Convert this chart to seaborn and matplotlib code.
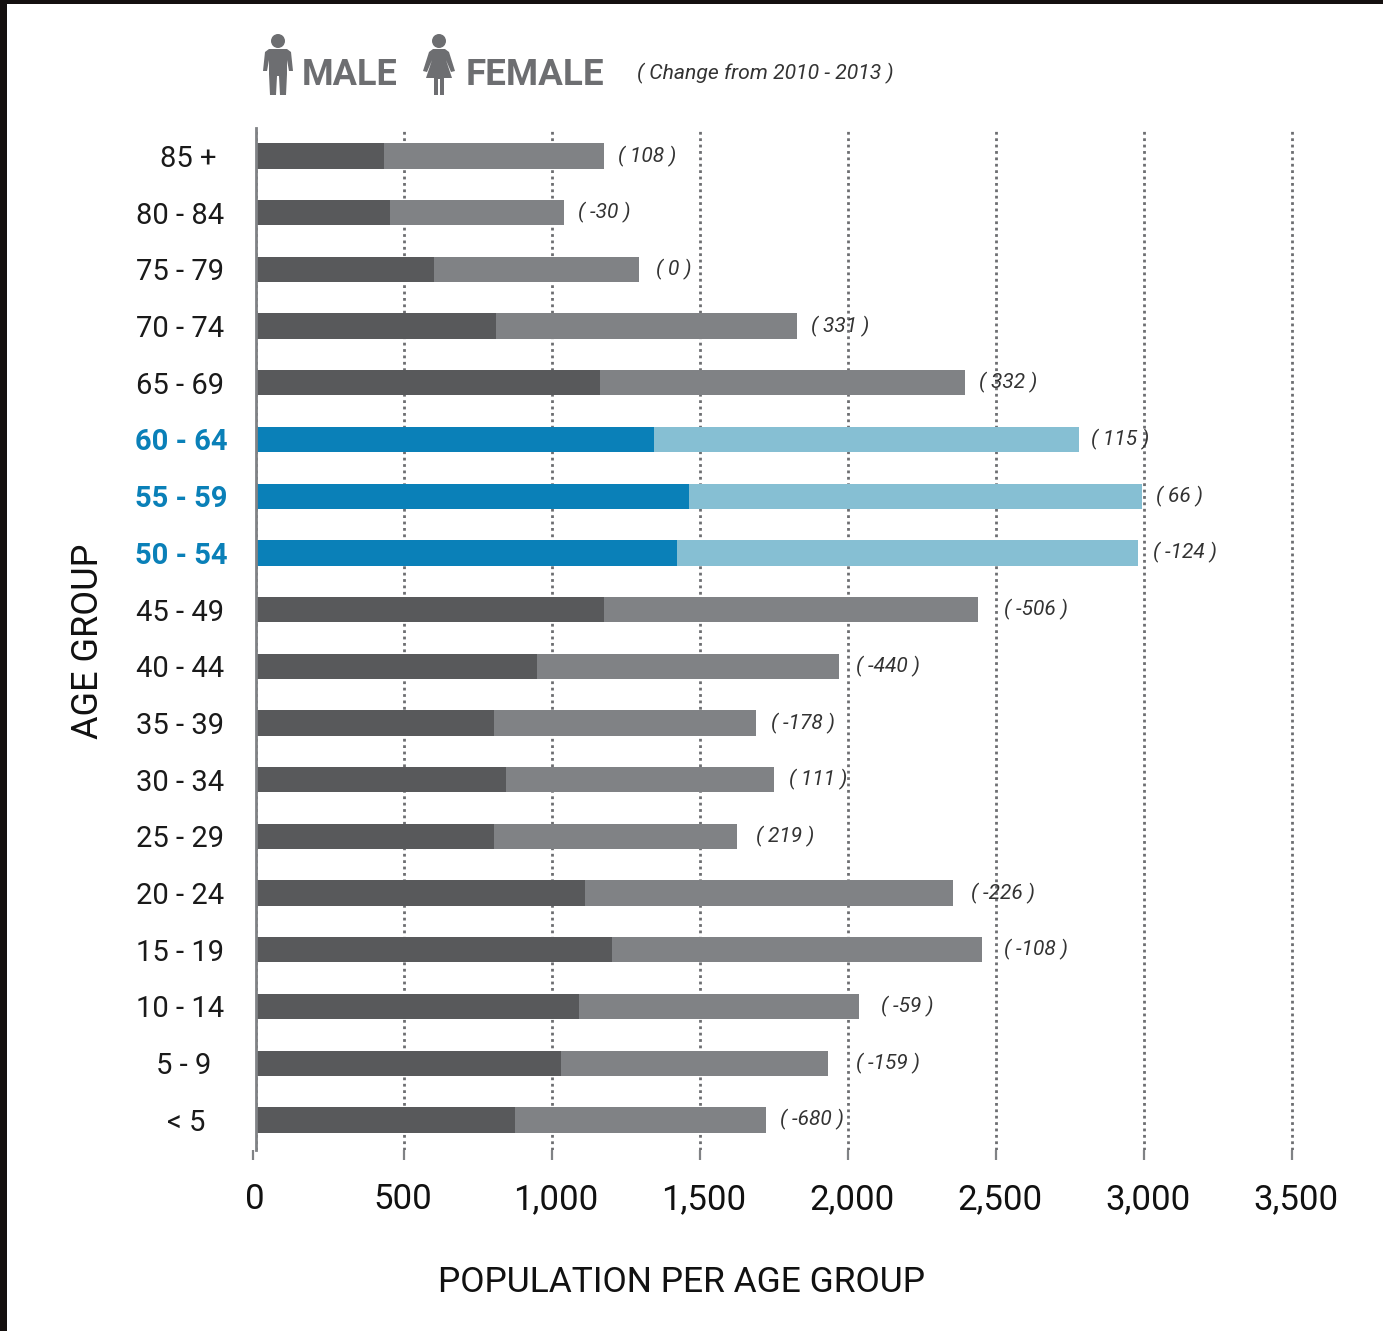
import matplotlib
matplotlib.use("Agg")
import matplotlib.pyplot as plt
from matplotlib.patches import Polygon, Circle, Rectangle
from matplotlib.transforms import ScaledTranslation, Affine2D
import seaborn as sns
import pandas as pd

ages = ["85 +", "80 - 84", "75 - 79", "70 - 74", "65 - 69", "60 - 64", "55 - 59", "50 - 54", "45 - 49",
        "40 - 44", "35 - 39", "30 - 34", "25 - 29", "20 - 24", "15 - 19", "10 - 14", "5 - 9", "< 5"]
male = [433, 453, 601, 811, 1163, 1345, 1463, 1423, 1176, 950, 804, 845, 804, 1112, 1203, 1092, 1031, 875]
female = [743, 588, 693, 1017, 1233, 1436, 1531, 1558, 1264, 1020, 886, 906, 822, 1244, 1251, 946, 902, 849]
changes = ["108", "-30", "0", "331", "332", "115", "66", "-124", "-506", "-440", "-178", "111", "219",
           "-226", "-108", "-59", "-159", "-680"]
highlighted = ["60 - 64", "55 - 59", "50 - 54"]
x_ticks = [0, 500, 1000, 1500, 2000, 2500, 3000, 3500]

# layout only (pixels)
label_gaps = [14, 14, 17, 14, 14, 12, 14, 15, 26, 17, 15, 15, 19, 18, 22, 22, 28, 14]
label_centres = [188, 180, 180, 180, 180, 181, 181, 181, 180, 180, 180, 180, 180, 180, 180, 180, 184, 186]
xlabel_shifts = [-1, -1, 4, 4, 4, 4, 4, 4]

W, H = 1383, 1331
sns.set_theme(style="white")
plt.rcParams["font.family"] = ["Roboto", "DejaVu Sans"]

fig = plt.figure(figsize=(W / 100, H / 100), dpi=100, facecolor="white")
AX_L, AX_R, AX_T, AX_B = 256, 1300, 128, 1150
ax = fig.add_axes([AX_L / W, 1 - AX_B / H, (AX_R - AX_L) / W, (AX_B - AX_T) / H])
px = Affine2D().scale(1 / W, -1 / H).translate(0, 1) + fig.transFigure

GREY_D, GREY_L = "#58595b", "#808285"
BLUE_D, BLUE_L = "#0a80b8", "#86bfd3"

df = pd.DataFrame({"age": ages, "male": male, "female": female})
df["total"] = df["male"] + df["female"]
pal_total = {a: (BLUE_L if a in highlighted else GREY_L) for a in ages}
pal_male = {a: (BLUE_D if a in highlighted else GREY_D) for a in ages}

sns.barplot(data=df, y="age", x="total", hue="age", palette=pal_total, order=ages, hue_order=ages,
            dodge=False, legend=False, width=0.445, saturation=1, linewidth=0, ax=ax)
sns.barplot(data=df, y="age", x="male", hue="age", palette=pal_male, order=ages, hue_order=ages,
            dodge=False, legend=False, width=0.445, saturation=1, linewidth=0, ax=ax)

ax.set_xlim(0, (AX_R - AX_L) / 0.2959)
ax.set_ylim((AX_B - 156) / 56.7, (AX_T - 156) / 56.7)
ax.set_xlabel("")
ax.set_ylabel("")
ax.set_axisbelow(True)
ax.xaxis.grid(True, color="#6d6e71", linestyle=(0, (1, 1.3)), linewidth=2.0)
ax.yaxis.grid(False)
for s in ["top", "right", "bottom"]:
    ax.spines[s].set_visible(False)
ax.spines["left"].set_color(GREY_L)
ax.spines["left"].set_linewidth(2.0)

ax.set_xticks(x_ticks)
ax.set_xticklabels([f"{v:,}" for v in x_ticks], fontsize=25, color="#111111")
ax.tick_params(axis="x", length=7.2, width=1.6, color="#808285", pad=16.5, bottom=True)
for lab, dx in zip(ax.get_xticklabels(), xlabel_shifts):
    lab.set_transform(lab.get_transform() + ScaledTranslation(dx / 100, 0, fig.dpi_scale_trans))
zero_tick = ax.xaxis.get_major_ticks()[0].tick1line
zero_tick.set_transform(zero_tick.get_transform() + ScaledTranslation(-3 / 100, 0, fig.dpi_scale_trans))

ax.set_yticks(range(len(ages)))
ax.set_yticklabels(ages)
ax.tick_params(axis="y", length=0, left=False, pad=0)
for lab, c, a in zip(ax.get_yticklabels(), label_centres, ages):
    hi = a in highlighted
    lab.set_ha("center")
    lab.set_fontsize(21)
    lab.set_color(BLUE_D if hi else "#1a1a1a")
    lab.set_fontweight("bold" if hi else "normal")
    lab.set_transform(lab.get_transform() + ScaledTranslation((c - AX_L) / 100, 0, fig.dpi_scale_trans))

for i, (tot, ch, gap) in enumerate(zip(df["total"], changes, label_gaps)):
    ax.annotate(f"( {ch} )", (tot, i), xytext=(gap, 0), textcoords="offset pixels",
                ha="left", va="center", fontsize=15, fontstyle="italic", color="#333333")

def ftext(x, y, s, **kw):
    fig.text(x, y, s, transform=px, ha=kw.pop("ha", "center"), va="center", **kw)

ftext(88, 641, "AGE GROUP", rotation=90, fontsize=26, color="#111111")
ftext(681, 1283, "POPULATION PER AGE GROUP", fontsize=25.5, color="#111111")
ftext(302, 75, "MALE", ha="left", fontsize=26, fontweight="bold", color="#6d6e71")
ftext(466, 75, "FEMALE", ha="left", fontsize=26.5, fontweight="bold", color="#6d6e71")
ftext(637, 73, "( Change from 2010 - 2013 )", ha="left", fontsize=15.2, fontstyle="italic", color="#333333")

# pictograms
icon = "#6d6e71"
male_shape = [(269, 49), (287, 49), (291, 52), (293, 71), (289, 71), (287, 60), (287, 74), (286, 95), (280, 95),
              (279, 76), (277, 76), (276, 95), (270, 95), (269, 74), (269, 60), (267, 71), (263, 71), (265, 52)]
female_shape = [(433, 49), (445, 49), (449, 52), (455, 71), (451, 72), (446, 60), (452, 78), (444, 78), (444, 95),
                (440, 95), (440, 79), (438, 79), (438, 95), (434, 95), (434, 78), (426, 78), (432, 60), (427, 72),
                (423, 71), (429, 52)]
for shape, cx in ((male_shape, 278), (female_shape, 439)):
    fig.add_artist(Polygon(shape, closed=True, transform=px, facecolor=icon, edgecolor="none"))
    fig.add_artist(Circle((cx, 41), 7, transform=px, facecolor=icon, edgecolor="none"))

# screenshot frame
fig.add_artist(Rectangle((0, 0), 7, H, transform=px, facecolor="#14100f", edgecolor="none"))
fig.add_artist(Rectangle((0, 0), W, 4, transform=px, facecolor="#14100f", edgecolor="none"))

fig.savefig("out.png", dpi=100, facecolor="white")
